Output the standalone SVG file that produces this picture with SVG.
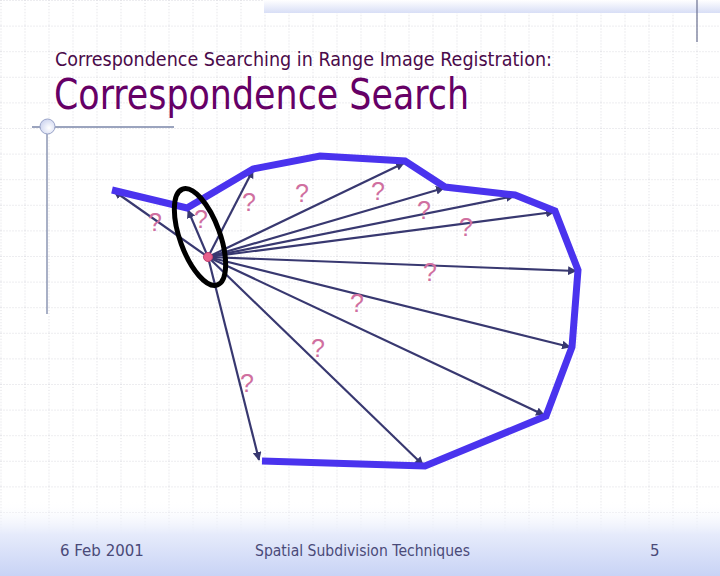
<svg xmlns="http://www.w3.org/2000/svg" width="720" height="576" viewBox="0 0 720 576">
<defs>
<pattern id="grid" x="0.5" y="0" width="24" height="25.6" patternUnits="userSpaceOnUse">
<line x1="0" y1="0" x2="0" y2="25.6" stroke="#b8b8c2" stroke-width="1" stroke-dasharray="1,2"/>
<line x1="0" y1="0" x2="24" y2="0" stroke="#b8b8c2" stroke-width="1" stroke-dasharray="1,2"/>
</pattern>
<linearGradient id="topbar" x1="0" y1="0" x2="0" y2="1">
<stop offset="0" stop-color="#ffffff"/>
<stop offset="1" stop-color="#d8def6"/>
</linearGradient>
<linearGradient id="foot" x1="0" y1="0" x2="0" y2="1">
<stop offset="0" stop-color="#ffffff" stop-opacity="0"/>
<stop offset="0.45" stop-color="#e6ebfb"/>
<stop offset="1" stop-color="#c8d3f5"/>
</linearGradient>
<radialGradient id="knob" cx="0.6" cy="0.6" r="0.7">
<stop offset="0" stop-color="#ffffff"/>
<stop offset="1" stop-color="#c8d0ee"/>
</radialGradient>
<marker id="arr" viewBox="0 0 10 10" refX="9" refY="5" markerWidth="4" markerHeight="4" orient="auto" markerUnits="strokeWidth">
<path d="M0,0 L10,5 L0,10 z" fill="#383870"/>
</marker>
</defs>
<style>
.ray{stroke:#383870;stroke-width:2.2;fill:none;marker-end:url(#arr)}
.q{font-family:"Liberation Sans","DejaVu Sans",sans-serif;font-size:25px;fill:#d070a0;text-anchor:middle}
.foot{font-family:"DejaVu Sans","Liberation Sans",sans-serif;font-size:15px;fill:#4a4a78}
</style>
<rect width="720" height="576" fill="#ffffff"/>
<rect width="720" height="576" fill="url(#grid)"/>
<rect x="0" y="500" width="720" height="76" fill="url(#foot)"/>
<rect x="264" y="0" width="456" height="13" fill="url(#topbar)"/>
<line x1="697" y1="0" x2="697" y2="42" stroke="#6a7090" stroke-width="1.2"/>
<g id="decor">
<line x1="32" y1="127" x2="174" y2="127" stroke="#7a86a8" stroke-width="1.3"/>
<line x1="47" y1="127" x2="47" y2="314" stroke="#7a86a8" stroke-width="1.3"/>
<circle cx="47.5" cy="126.5" r="7.5" fill="url(#knob)" stroke="#9aa4c8" stroke-width="1"/>
</g>
<g id="titles">
<text x="55" y="66" font-family="'DejaVu Sans Condensed','DejaVu Sans',sans-serif" font-size="19" fill="#4a0a4a" textLength="497" lengthAdjust="spacingAndGlyphs">Correspondence Searching in Range Image Registration:</text>
<text x="54" y="109" font-family="'DejaVu Sans Condensed','DejaVu Sans',sans-serif" font-size="42" fill="#660066" textLength="415" lengthAdjust="spacingAndGlyphs">Correspondence Search</text>
</g>
<g id="connectors">
<line class="ray" x1="208" y1="257" x2="114" y2="191"/>
<line class="ray" x1="208" y1="257" x2="188" y2="210"/>
<line class="ray" x1="208" y1="257" x2="253" y2="170"/>
<line class="ray" x1="208" y1="257" x2="404" y2="163"/>
<line class="ray" x1="208" y1="257" x2="444" y2="188"/>
<line class="ray" x1="208" y1="257" x2="514" y2="196"/>
<line class="ray" x1="208" y1="257" x2="554" y2="212"/>
<line class="ray" x1="208" y1="257" x2="576" y2="271"/>
<line class="ray" x1="208" y1="257" x2="570" y2="347"/>
<line class="ray" x1="208" y1="257" x2="544" y2="415"/>
<line class="ray" x1="208" y1="257" x2="423" y2="465"/>
<line class="ray" x1="208" y1="257" x2="259" y2="460"/>
</g>
<g id="surface">
<polyline points="112,190 187,208 253,169 320,156 405,161 445,187 515,195 555,211 578,270 572,347 546,416 425,466 262,461" fill="none" stroke="#4a33ee" stroke-width="7" stroke-linejoin="miter"/>
</g>
<g id="labels">
<text class="q" x="155" y="231">?</text>
<text class="q" x="201" y="228">?</text>
<text class="q" x="249" y="211">?</text>
<text class="q" x="302" y="202">?</text>
<text class="q" x="378" y="200">?</text>
<text class="q" x="424" y="219">?</text>
<text class="q" x="466" y="236">?</text>
<text class="q" x="430" y="281">?</text>
<text class="q" x="357" y="312">?</text>
<text class="q" x="318" y="357">?</text>
<text class="q" x="247" y="392">?</text>
</g>
<g id="focus">
<ellipse cx="200" cy="237" rx="20" ry="51" transform="rotate(-20 200 237)" fill="none" stroke="#000000" stroke-width="5"/>
<circle cx="208" cy="257" r="4.5" fill="#e8608c" stroke="#c04070" stroke-width="1"/>
</g>
<g id="footer">
<text class="foot" x="60" y="556">6 Feb 2001</text>
<text class="foot" x="255" y="556" textLength="215" lengthAdjust="spacingAndGlyphs">Spatial Subdivision Techniques</text>
<text class="foot" x="650" y="556">5</text>
</g>
</svg>
